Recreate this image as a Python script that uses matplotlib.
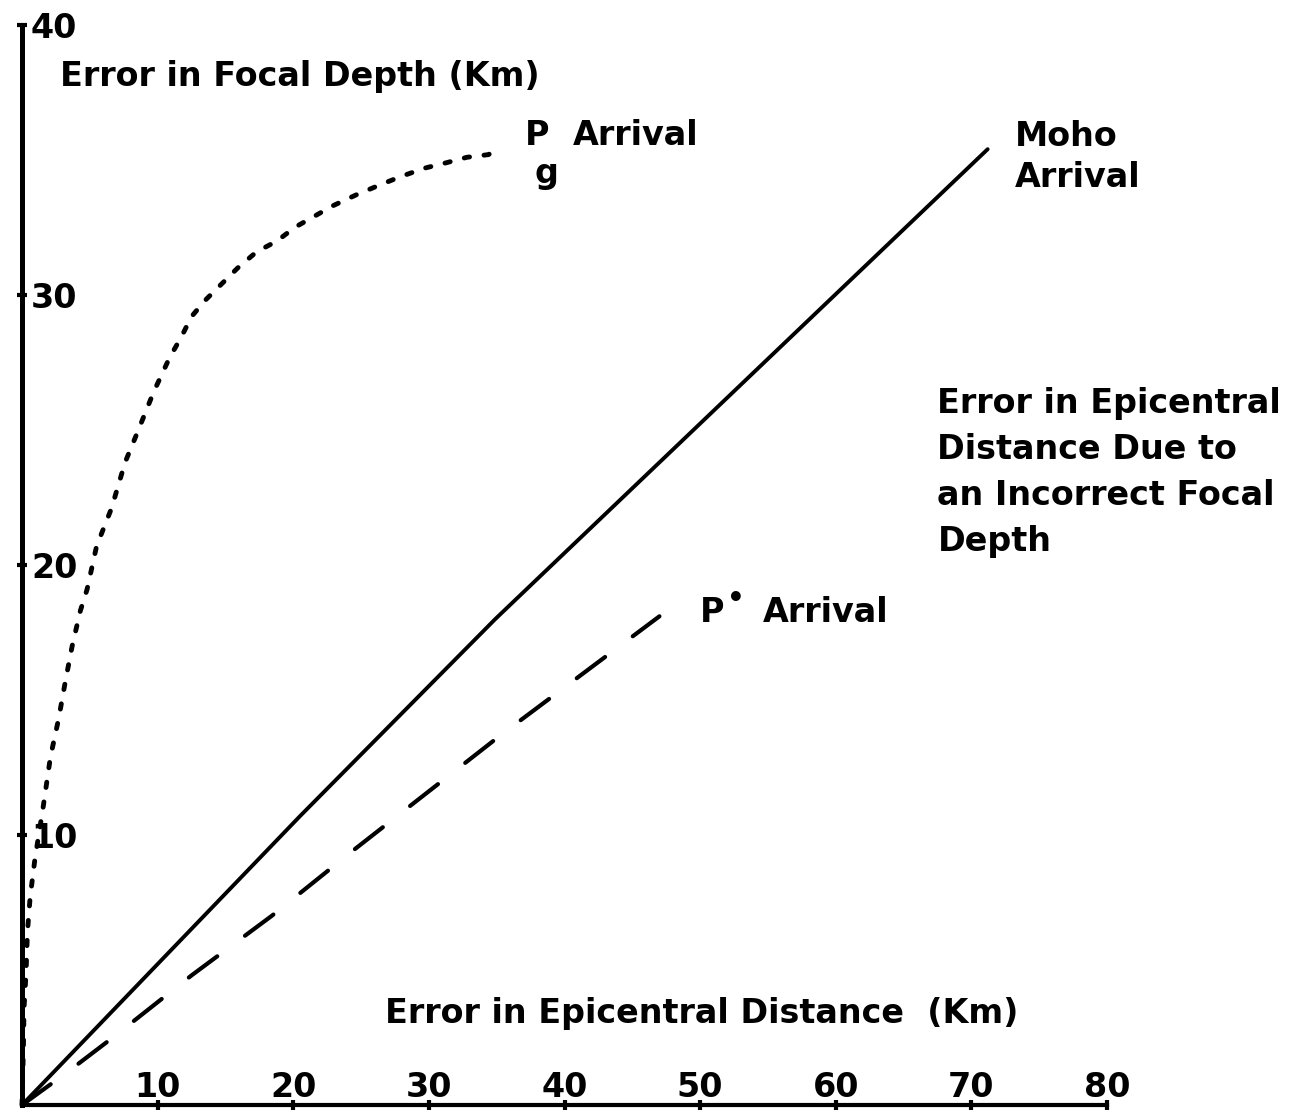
import matplotlib
matplotlib.use("Agg")
import matplotlib.pyplot as plt

# Error in focal depth (km) vs error in epicentral distance (km)
pg_x = [0.0, 0.1, 0.15, 0.3, 0.4, 0.6, 0.95, 1.55, 2.1, 2.7, 3.2, 3.7, 4.3, 4.8,
        5.5, 6.6, 7.6, 8.5, 9.7, 10.9, 11.7, 12.5, 13.5, 14.7, 15.9, 17.3, 18.8,
        20.1, 21.5, 22.9, 24.6, 26.5, 28.0, 29.7, 31.3, 32.8, 34.4, 35.0]
pg_y = [0.0, 2.0, 3.6, 4.9, 6.4, 7.7, 9.1, 11.0, 12.9, 14.3, 15.7, 17.0, 18.3, 19.1,
        20.7, 22.1, 23.8, 24.9, 26.4, 27.7, 28.4, 29.2, 29.8, 30.4, 31.0, 31.6, 32.0,
        32.5, 32.9, 33.3, 33.7, 34.1, 34.4, 34.7, 34.9, 35.1, 35.2, 35.4]

moho_x = [0.0, 20.5, 34.9, 71.2]
moho_y = [0.0, 10.7, 18.0, 35.4]

pstar_x = [0.0, 3.3, 6.7, 12.5, 18.4, 24.6, 35.3, 47.0]
pstar_y = [0.0, 1.2, 2.5, 4.8, 7.0, 9.5, 13.7, 18.1]

xticks = [10, 20, 30, 40, 50, 60, 70, 80]
xtick_labels = ["10", "20", "30", "40", "50", "60", "70", "80"]
yticks = [10, 20, 30, 40]
ytick_labels = ["10", "20", "30", "40"]

plt.rcParams['font.family'] = ['DejaVu Sans']
plt.rcParams['font.weight'] = 'bold'

fig = plt.figure(figsize=(12.91, 11.14), dpi=100)
ax = fig.add_axes([22 / 1291, 9 / 1114, 1085 / 1291, 1080 / 1114])

ax.plot(pg_x, pg_y, color='k', lw=3.5, linestyle=(0, (1.1, 3.0)),
        dash_capstyle='round', clip_on=False)
ax.plot(moho_x, moho_y, color='k', lw=2.8, solid_capstyle='round', clip_on=False)
ax.plot(pstar_x, pstar_y, color='k', lw=3.0, linestyle=(0, (8.5, 8.3)),
        dash_capstyle='round', clip_on=False)

ax.set_xlim(0, 80)
ax.set_ylim(0, 40)
for s in ['top', 'right']:
    ax.spines[s].set_visible(False)
ax.spines['left'].set_linewidth(3.6)
ax.spines['bottom'].set_linewidth(3.0)

ax.set_xticks(xticks, labels=xtick_labels)
ax.set_yticks(yticks, labels=ytick_labels)
ax.tick_params(axis='both', direction='inout', length=7, width=3, labelsize=24)
ax.tick_params(axis='x', pad=-4)
ax.tick_params(axis='y', pad=-10)
plt.setp(ax.get_xticklabels(), va='bottom', fontweight='bold')
plt.setp(ax.get_yticklabels(), ha='left', fontweight='bold')

fs = 24
ax.text(2.8, 38.1, "Error in Focal Depth (Km)", fontsize=fs, ha='left', va='center')
ax.text(37.1, 35.9, "P", fontsize=fs, ha='left', va='center')
ax.text(37.8, 34.5, "g", fontsize=fs, ha='left', va='center')
ax.text(40.6, 35.9, "Arrival", fontsize=fs, ha='left', va='center')
ax.text(73.2, 36.5, "Moho\nArrival", fontsize=fs, ha='left', va='top',
        linespacing=1.32)
ax.text(67.5, 26.6, "Error in Epicentral\nDistance Due to\nan Incorrect Focal\nDepth",
        fontsize=fs, ha='left', va='top', linespacing=1.5)
ax.text(50.0, 18.25, "P", fontsize=fs, ha='left', va='center')
ax.text(52.6, 18.75, "\u2022", fontsize=20, ha='center', va='center')
ax.text(54.6, 18.25, "Arrival", fontsize=fs, ha='left', va='center')
ax.text(26.8, 3.4, "Error in Epicentral Distance  (Km)", fontsize=fs, ha='left',
        va='center')

fig.savefig("out.png", dpi=100)
